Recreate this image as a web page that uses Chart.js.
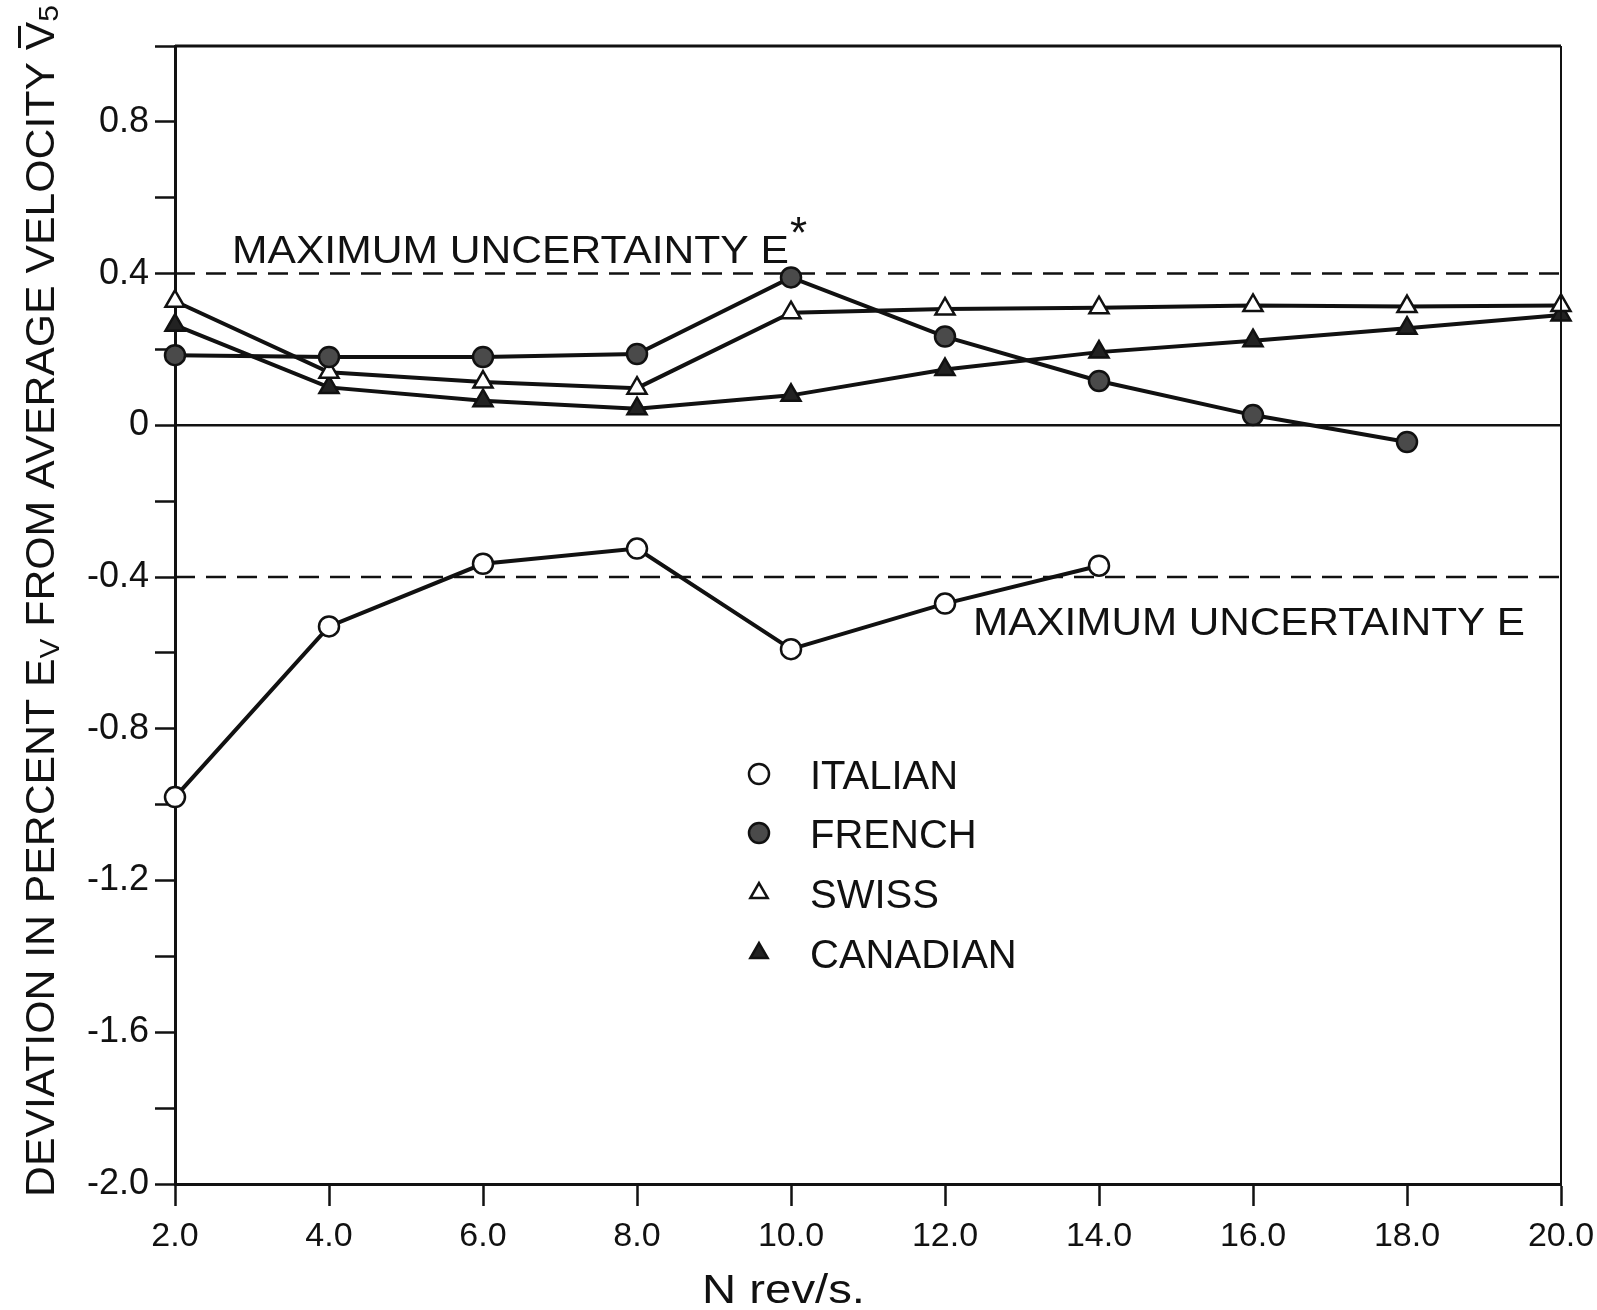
<!DOCTYPE html>
<html>
<head>
<meta charset="utf-8">
<script src="https://cdn.jsdelivr.net/npm/chart.js@4.4.1/dist/chart.umd.min.js"></script>
<style>
  html, body { margin: 0; padding: 0; background: #fff; }
  canvas { display: block; }
</style>
</head>
<body>
<canvas id="chart" width="1597" height="1310"></canvas>
<script>
// rotational speed, rev/s
const revs = [2, 4, 6, 8, 10, 12, 14, 16, 18, 20]

// deviation in percent from average velocity
const italian  = [-0.98, -0.53, -0.365, -0.325, -0.59, -0.47, -0.37]
const french   = [0.185, 0.18, 0.18, 0.188, 0.39, 0.234, 0.117, 0.027, -0.044]
const swiss    = [0.327, 0.14, 0.114, 0.098, 0.297, 0.307, 0.31, 0.316, 0.313, 0.316]
const canadian = [0.264, 0.10, 0.065, 0.044, 0.079, 0.147, 0.193, 0.223, 0.256, 0.291]

// maximum uncertainty band
const maxUncertainty = 0.4

const yLabelled = [0.8, 0.4, 0, -0.4, -0.8, -1.2, -1.6, -2.0]
const xLabels = ['2.0', '4.0', '6.0', '8.0', '10.0', '12.0', '14.0', '16.0', '18.0', '20.0']

const FONT = '"Liberation Sans", Arial, sans-serif'

const points = (ys) => ys.map((y, i) => ({ x: revs[i], y: y }))
const flat = (y) => [{ x: revs[0], y: y }, { x: revs[revs.length - 1], y: y }]

const series = (label, ys, style, fill) => ({
    label: label,
    data: points(ys),
    borderColor: '#111',
    borderWidth: 4,
    pointStyle: style,
    pointRadius: style === 'triangle' ? 11 : 10,
    pointBorderWidth: 2.5,
    pointBorderColor: '#111',
    pointBackgroundColor: fill,
    clip: false,
    order: 1,
})

const refLine = (y, dash) => ({
    label: '',
    data: flat(y),
    borderColor: '#111',
    borderWidth: 2.5,
    borderDash: dash,
    pointRadius: 0,
    order: 10,
})

// draws a list of text runs, optionally squeezed/stretched to a width
function drawRuns(ctx, runs, x, y, width) {
    let total = 0
    for (const r of runs) {
        ctx.font = `${r.size}px ${FONT}`
        r.w = ctx.measureText(r.text).width
        total += r.w
    }
    const sx = width ? width / total : 1
    ctx.save()
    ctx.translate(x, y)
    ctx.scale(sx, 1)
    ctx.fillStyle = '#111'
    ctx.textBaseline = 'alphabetic'
    ctx.textAlign = 'left'
    let cx = 0
    for (const r of runs) {
        ctx.font = `${r.size}px ${FONT}`
        ctx.fillText(r.text, cx, r.dy || 0)
        if (r.bar) {
            ctx.fillRect(cx + 2, (r.dy || 0) - r.size * 0.9, r.w - 6, 3)
        }
        cx += r.w
    }
    ctx.restore()
}

const decorations = {
    id: 'decorations',
    afterDraw(chart) {
        const ctx = chart.ctx
        const area = chart.chartArea

        // frame: top and right edges
        ctx.save()
        ctx.strokeStyle = '#111'
        ctx.lineWidth = 3
        ctx.beginPath()
        ctx.moveTo(area.left, area.top)
        ctx.lineTo(area.right, area.top)
        ctx.stroke()
        ctx.lineWidth = 2
        ctx.beginPath()
        ctx.moveTo(area.right, area.top)
        ctx.lineTo(area.right, area.bottom)
        ctx.stroke()
        ctx.restore()

        // uncertainty labels
        drawRuns(ctx, [{ text: 'MAXIMUM UNCERTAINTY E', size: 38 }], 232, 263, 557)
        drawRuns(ctx, [{ text: '*', size: 44, dy: -8 }], 790, 256)
        drawRuns(ctx, [{ text: 'MAXIMUM UNCERTAINTY E', size: 38 }], 973, 635, 552)

        // y title
        ctx.save()
        ctx.translate(54, 1197)
        ctx.rotate(-Math.PI / 2)
        drawRuns(ctx, [
            { text: 'DEVIATION IN PERCENT E', size: 40 },
            { text: 'V', size: 28, dy: 5 },
            { text: ' FROM AVERAGE VELOCITY ', size: 40 },
            { text: 'V', size: 40, bar: true },
            { text: '5', size: 28, dy: 4 },
        ], 0, 0, 1192)
        ctx.restore()

        // x title
        drawRuns(ctx, [{ text: 'N rev/s.', size: 40 }], 702, 1303, 163)

        // legend
        const rows = [774, 833, 893, 953]
        chart.data.datasets.slice(0, 4).forEach((ds, i) => {
            ctx.save()
            ctx.lineWidth = 2.5
            ctx.strokeStyle = '#111'
            ctx.fillStyle = ds.pointBackgroundColor
            Chart.helpers.drawPoint(ctx, {
                pointStyle: ds.pointStyle,
                radius: 10,
                rotation: 0,
                borderWidth: 2.5,
            }, 759, rows[i])
            ctx.restore()
            drawRuns(ctx, [{ text: ds.label, size: 40 }], 810, rows[i] + 15)
        })
    }
}

new Chart(document.getElementById('chart'), {
    type: 'line',
    data: {
        datasets: [
            series('ITALIAN', italian, 'circle', '#fff'),
            series('FRENCH', french, 'circle', '#4a4a4a'),
            series('SWISS', swiss, 'triangle', '#fff'),
            series('CANADIAN', canadian, 'triangle', '#222'),
            refLine(maxUncertainty, [20, 11]),
            refLine(-maxUncertainty, [20, 11]),
            refLine(0, []),
        ]
    },
    options: {
        responsive: false,
        animation: false,
        layout: { autoPadding: false, padding: { left: 0, top: 46, right: 36, bottom: 0 } },
        plugins: {
            legend: { display: false },
            tooltip: { enabled: false },
        },
        scales: {
            x: {
                type: 'linear',
                min: 2,
                max: 20,
                afterFit: (s) => {
                    s.height = 126
                    s.paddingLeft = 0
                    s.paddingRight = 0
                },
                afterBuildTicks: (s) => { s.ticks = revs.map((v) => ({ value: v })) },
                ticks: {
                    color: '#111',
                    font: { family: FONT, size: 34 },
                    padding: 10,
                    maxRotation: 0,
                    callback: (v, i) => xLabels[i],
                },
                grid: { drawOnChartArea: false, drawTicks: true, tickLength: 22, tickWidth: 2.5, tickColor: '#111' },
                border: { display: true, color: '#111', width: 3 },
            },
            y: {
                type: 'linear',
                min: -2.0,
                max: 1.0,
                afterFit: (s) => {
                    s.width = 175
                    s.paddingTop = 0
                    s.paddingBottom = 0
                },
                ticks: {
                    stepSize: 0.2,
                    color: '#111',
                    font: { family: FONT, size: 36 },
                    padding: 6,
                    callback: (v) => {
                        const r = Math.round(v * 10) / 10
                        if (!yLabelled.some((t) => Math.abs(t - r) < 1e-6)) return ''
                        return r === 0 ? '0' : r.toFixed(1)
                    },
                },
                grid: { drawOnChartArea: false, drawTicks: true, tickLength: 20, tickWidth: 2.5, tickColor: '#111' },
                border: { display: true, color: '#111', width: 3 },
            },
        },
    },
    plugins: [decorations],
})
</script>
</body>
</html>
